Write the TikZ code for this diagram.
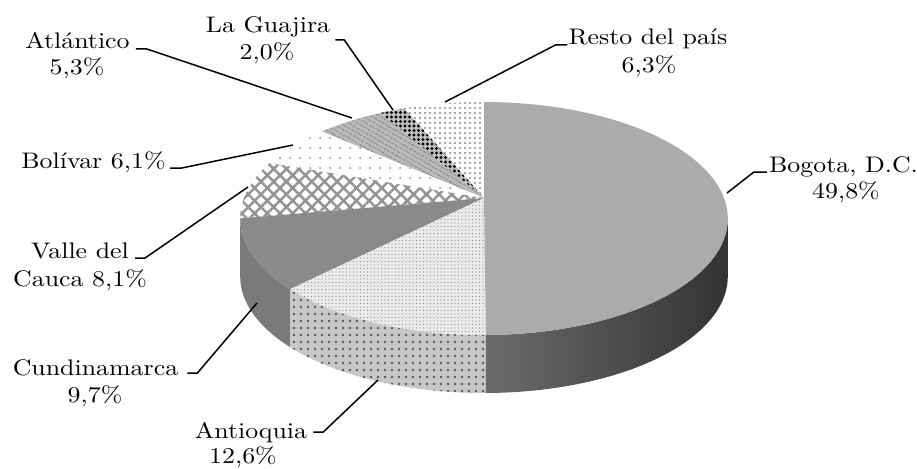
\documentclass[tikz,border=0pt]{standalone}
\usepackage{fontspec}
\setmainfont{lmroman10-regular.otf}[FakeStretch=1.15]
\usetikzlibrary{patterns.meta}
\begin{document}
\begin{tikzpicture}[x=1pt,y=-1pt,
  declare function={pieX(\a)=484+240*cos(\a)/(1+0.176*sin(\a));
                    pieY(\a)=198-112.9*sin(\a)/(1+0.176*sin(\a));},
  lbl/.style={inner sep=0pt, anchor=base, font=\fontsize{22.5}{27}\selectfont},
  conn/.style={draw=black, line width=1.5pt},
  restotop/.style={preaction={fill=white}, pattern={Dots[distance=5pt, radius=1.1pt]}, pattern color=black!45},
  guatop/.style={preaction={fill=black!25}, pattern={Dots[distance=4.5pt, radius=1.6pt]}, pattern color=black},
  atltop/.style={preaction={fill=black!28}, pattern={Lines[angle=-30, distance=4pt, line width=1.2pt]}, pattern color=black!50},
  boltop/.style={preaction={fill=white}, pattern={Dots[distance=10pt, radius=1pt]}, pattern color=black!45},
  valtop/.style={preaction={fill=white}, pattern={Hatch[angle=45, distance=9pt, line width=2.5pt]}, pattern color=black!42},
  cuntop/.style={fill=black!46},
  cunside/.style={fill=black!52},
  anttop/.style={preaction={fill=black!8}, pattern={Dots[distance=3.5pt, radius=0.7pt]}, pattern color=black!45},
  antside/.style={preaction={fill=black!22}, pattern={Dots[distance=7pt, radius=1.4pt]}, pattern color=black!65},
  bogtop/.style={fill=black!33},
  bogside/.style={left color=black!58, right color=black!80}
]
\path[use as bounding box] (0,0) rectangle (917,468);
\coordinate (c) at (484,198);

% side faces
\path[cunside] plot[domain=190.08:225,samples=30,variable=\x] ({pieX(\x)},{pieY(\x)})
  -- plot[domain=225:190.08,samples=30,variable=\x] ({pieX(\x)},{pieY(\x)+58}) -- cycle;
\path[antside] plot[domain=225:270.36,samples=40,variable=\x] ({pieX(\x)},{pieY(\x)})
  -- plot[domain=270.36:225,samples=40,variable=\x] ({pieX(\x)},{pieY(\x)+58}) -- cycle;
\shade[bogside] plot[domain=270.36:349.9,samples=60,variable=\x] ({pieX(\x)},{pieY(\x)})
  -- plot[domain=349.9:270.36,samples=60,variable=\x] ({pieX(\x)},{pieY(\x)+58}) -- cycle;

% top faces
\path[restotop] (c) -- plot[domain=90:112.68,samples=20,variable=\x] ({pieX(\x)},{pieY(\x)}) -- cycle;
\path[guatop] (c) -- plot[domain=112.68:119.88,samples=8,variable=\x] ({pieX(\x)},{pieY(\x)}) -- cycle;
\path[atltop] (c) -- plot[domain=119.88:138.96,samples=20,variable=\x] ({pieX(\x)},{pieY(\x)}) -- cycle;
\path[boltop] (c) -- plot[domain=138.96:160.92,samples=20,variable=\x] ({pieX(\x)},{pieY(\x)}) -- cycle;
\path[valtop] (c) -- plot[domain=160.92:190.08,samples=25,variable=\x] ({pieX(\x)},{pieY(\x)}) -- cycle;
\path[cuntop] (c) -- plot[domain=190.08:225,samples=30,variable=\x] ({pieX(\x)},{pieY(\x)}) -- cycle;
\path[anttop] (c) -- plot[domain=225:270.36,samples=40,variable=\x] ({pieX(\x)},{pieY(\x)}) -- cycle;
\path[bogtop] (c) -- plot[domain=270.36:450,samples=120,variable=\x] ({pieX(\x)},{pieY(\x)}) -- cycle;

% connector end points on the pie
\coordinate (patl) at (352,118);
\coordinate (pgua) at (393,110);
\coordinate (pres) at (445,102);
\coordinate (pbog) at (727,193);
\coordinate (pbol) at (293,145);
\coordinate (pval) at (248,187);
\coordinate (pcun) at (257,303);
\coordinate (pant) at (378,380);

% labels
\node[lbl] (atl) at (77.5,49) {Atlántico};
\node[lbl] (atlv) at (77,75) {5,3\%};
\node[lbl] (gua) at (268,33) {La Guajira};
\node[lbl] (guav) at (267,60) {2,0\%};
\node[lbl] (res) at (648,45) {Resto del país};
\node[lbl] (resv) at (649,73) {6,3\%};
\node[lbl] (bog) at (843.5,172) {Bogota, D.C.};
\node[lbl] (bogv) at (846,198) {49,8\%};
\node[lbl] (bol) at (93.5,168) {Bolívar 6,1\%};
\node[lbl] (val) at (80,258) {Valle del};
\node[lbl] (valv) at (80,286) {Cauca 8,1\%};
\node[lbl] (cun) at (95.5,375) {Cundinamarca};
\node[lbl] (cunv) at (95,402) {9,7\%};
\node[lbl] (ant) at (251,438) {Antioquia};
\node[lbl] (antv) at (243,463) {12,6\%};

% connectors
\draw[conn] ([shift={(6,0)}]atl.base east) -- ++(11,0) -- (patl);
\draw[conn] ([shift={(5,7)}]gua.base east) -- ++(9,0) -- (pgua);
\draw[conn] ([shift={(-1,0)}]res.base west) -- ++(-12,0) -- (pres);
\draw[conn] ([shift={(-2,0)}]bog.base west) -- ++(-13,0) -- (pbog);
\draw[conn] ([shift={(4,0)}]bol.base east) -- ++(12,0) -- (pbol);
\draw[conn] ([shift={(6,0)}]val.base east) -- ++(10,0) -- (pval);
\draw[conn] ([shift={(9,-2)}]cun.base east) -- ++(10,0) -- (pcun);
\draw[conn] ([shift={(6,-6)}]ant.base east) -- ++(10,0) -- (pant);
\end{tikzpicture}
\end{document}
